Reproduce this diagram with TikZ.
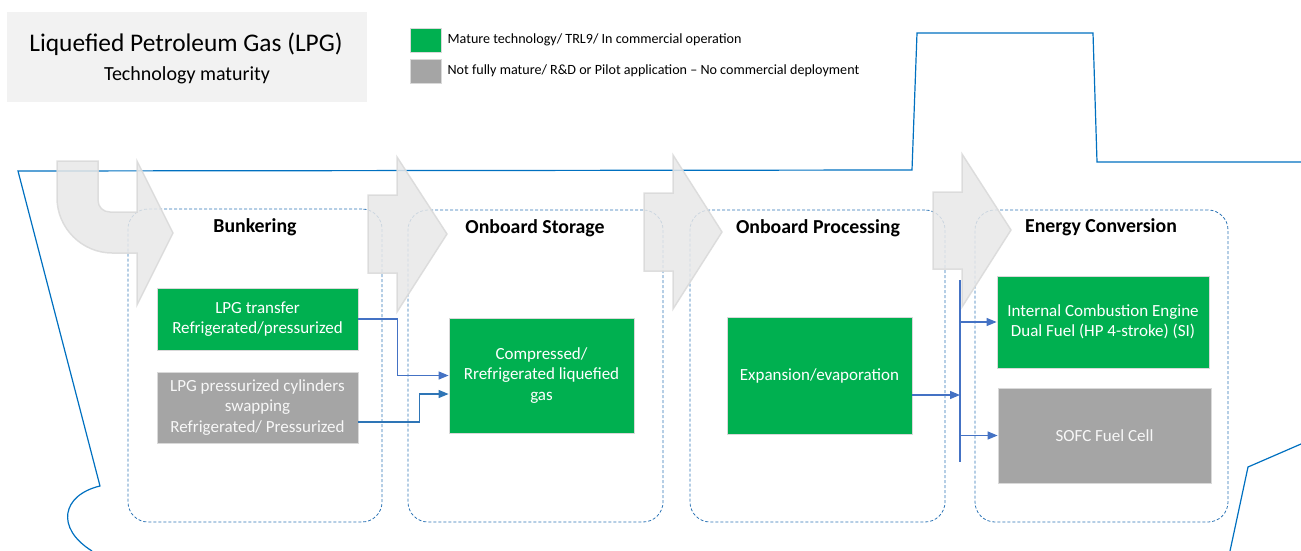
\documentclass[tikz,border=0pt]{standalone}
\usepackage{fontspec}
\setmainfont{Carlito}
\usepackage{xcolor}
\usepackage{tikz}
\usetikzlibrary{arrows.meta, positioning}
\definecolor{lpggreen}{HTML}{00B050}
\definecolor{lpggrey}{HTML}{A5A5A5}
\definecolor{shipblue}{HTML}{0070C0}
\definecolor{linkblue}{HTML}{4472C4}
\definecolor{stageblue}{HTML}{2E75B6}

\begin{document}
\begin{tikzpicture}[x=1pt, y=-1pt,
    techbox/.style={draw=black!15, line width=0.8pt, align=center, text=white, inner sep=0pt,
        font=\fontsize{17}{20.5}\selectfont},
    greenbox/.style={techbox, fill=lpggreen},
    greybox/.style={techbox, fill=lpggrey, text=black!3},
    stagebox/.style={draw=stageblue, densely dashed, line width=0.8pt, rounded corners=20pt, inner sep=0pt},
    stagehead/.style={font=\fontsize{19.8}{23}\selectfont\bfseries},
    keybox/.style={draw=black!15, line width=0.8pt, minimum width=31pt, minimum height=24pt, inner sep=0pt},
    keytext/.style={font=\fontsize{14.1}{17}\selectfont, inner sep=0pt},
    bigarrow/.style={draw=black!15, line width=1.5pt, fill=black!9, opacity=0.85},
    ship/.style={draw=shipblue, line width=1.2pt},
    link/.style={draw=linkblue, line width=1.2pt, -{Triangle[length=10pt,width=8pt]}}]
\useasboundingbox (0,0) rectangle (1301,551);

% Title
\node[fill=black!5, minimum width=360pt, minimum height=90pt, inner sep=0pt] (titlebox) at (187,57) {};
\node[font=\fontsize{25.4}{29}\selectfont] (title) at (186,44) {Liquefied Petroleum Gas (LPG)};
\node[font=\fontsize{20}{23}\selectfont] (subtitle) at (187,75) {Technology maturity};

% Legend
\node[keybox, fill=lpggreen] (keygreen) at (425.5,40) {};
\node[keybox, fill=lpggrey] (keygrey) at (425.5,71) {};
\node[keytext, right=6pt of keygreen] (keygreentext) {Mature technology/ TRL9/ In commercial operation};
\node[keytext, right=6pt of keygrey] (keygreytext) {Not fully mature/ R\&D or Pilot application -- No commercial deployment};

% Ship outline
\draw[ship] (1301,162) -- (1097,162) -- (1093,33) -- (917,33) -- (912,170) -- (18,171) -- (100,486)
    .. controls (62,495) and (55,528) .. (92,551);
\draw[ship] (1230,551) -- (1248,467) -- (1301,444);

% Stages
\node[stagebox, minimum width=254pt, minimum height=313pt] (bunk) at (255,365.5) {};
\node[stagebox, minimum width=255pt, minimum height=312pt] (store) at (535.5,366) {};
\node[stagebox, minimum width=255pt, minimum height=312pt] (proc) at (817.5,366) {};
\node[stagebox, minimum width=253pt, minimum height=312pt] (conv) at (1101.5,366) {};

% Big grey arrows
\draw[bigarrow] (57,161) -- (98,161) -- (98,200) .. controls (98,207) and (103,212) .. (110,212)
    -- (137,212) -- (137,161) -- (173,233) -- (137,305) -- (137,253) -- (112,253)
    .. controls (82,253) and (57,228) .. (57,198) -- cycle;
\draw[bigarrow] (368,195) -- (397,195) -- (397,157) -- (447,234) -- (397,312) -- (397,273) -- (368,273) -- cycle;
\draw[bigarrow] (644,193) -- (673,193) -- (673,155) -- (722,232) -- (673,309) -- (673,271) -- (644,271) -- cycle;
\draw[bigarrow] (933,192) -- (962,192) -- (962,154) -- (1011,230) -- (962,307) -- (962,269) -- (933,269) -- cycle;

% Stage headings
\node[stagehead] (bunkhead) at (255,227) {Bunkering};
\node[stagehead] (storehead) at (535,228) {Onboard Storage};
\node[stagehead] (prochead) at (818,228) {Onboard Processing};
\node[stagehead] (convhead) at (1101,227) {Energy Conversion};

% Technologies
\node[greenbox, minimum width=201pt, minimum height=62pt] (transfer) at (257.5,319) {LPG transfer\\Refrigerated/pressurized};
\node[greybox, minimum width=201pt, minimum height=71pt] (swap) at (257.5,407.5) {LPG pressurized cylinders\\swapping\\Refrigerated/ Pressurized};
\node[greenbox, minimum width=185pt, minimum height=115pt] (tank) at (541.5,375.5) {Compressed/\\Rrefrigerated liquefied\\gas};
\node[greenbox, minimum width=185pt, minimum height=117pt] (expand) at (819.5,375.5) {Expansion/evaporation};
\node[greenbox, minimum width=212pt, minimum height=92pt] (ice) at (1103,322) {Internal Combustion Engine\\Dual Fuel (HP 4-stroke) (SI)};
\node[greybox, minimum width=213pt, minimum height=95pt] (sofc) at (1104.5,435.5) {SOFC Fuel Cell};

% Links
\draw[link] (transfer.east) -- ++(39,0) |- (tank.west);
\draw[link, draw=stageblue] ([yshift=-14.5pt]swap.east) -- ++(61,0) |- ([yshift=-18.5pt]tank.west);
\coordinate (bustop) at (960,280);
\coordinate (busbot) at (960,462);
\draw[linkblue, line width=1.2pt] (bustop) -- (busbot);
\draw[link] ([yshift=-19.5pt]expand.east) coordinate (expout) -- (expout -| bustop);
\draw[link] (ice.west -| bustop) -- (ice.west);
\draw[link] (sofc.west -| bustop) -- (sofc.west);
\end{tikzpicture}
\end{document}
